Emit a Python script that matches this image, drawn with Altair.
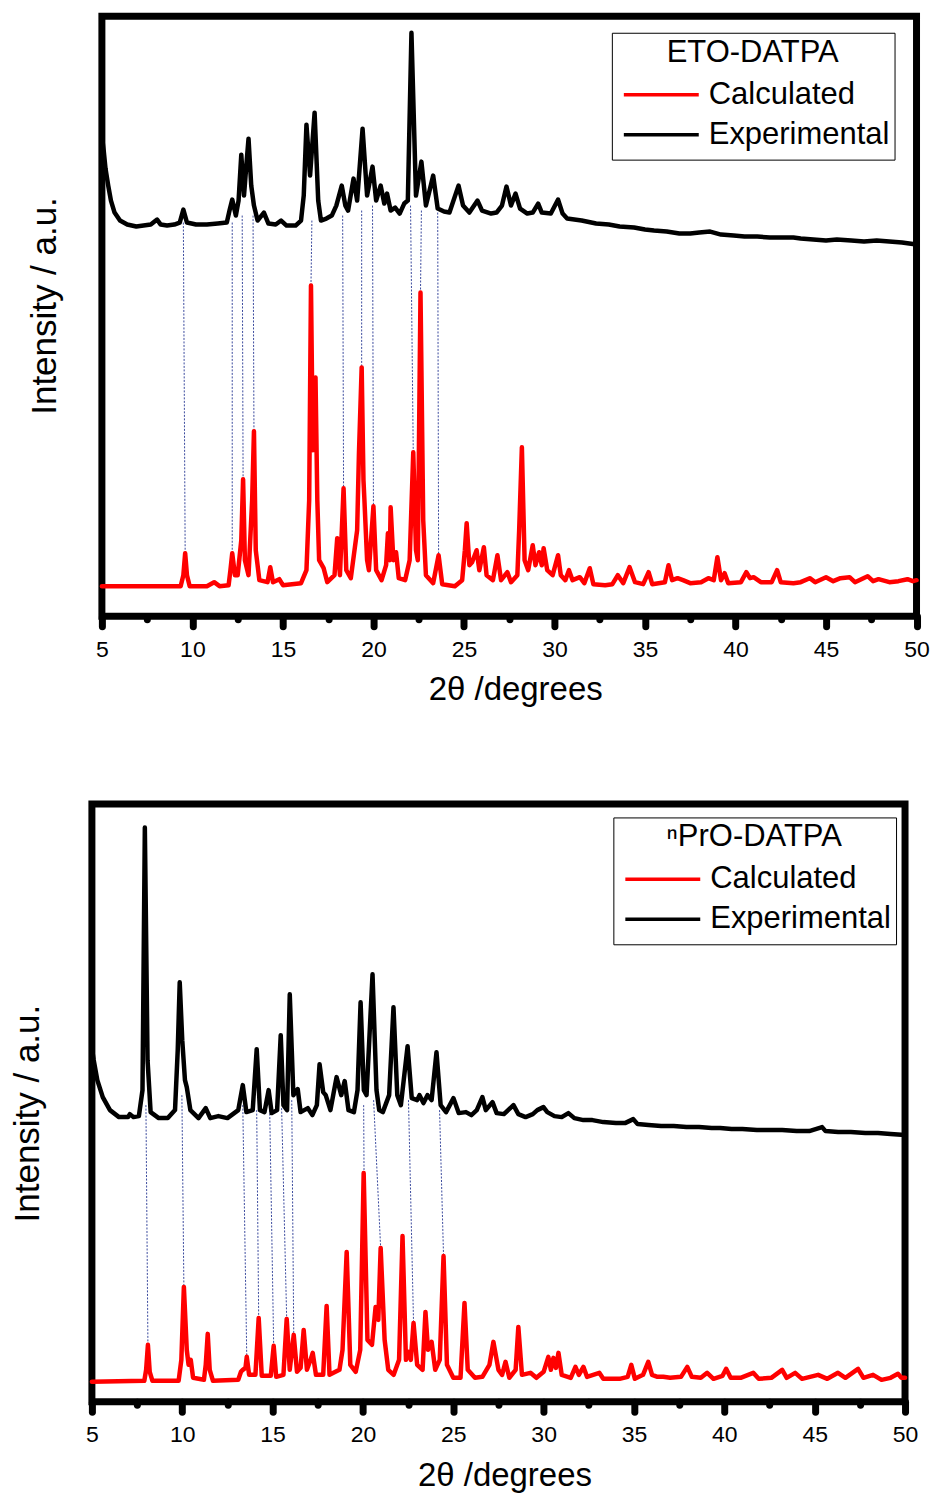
import altair as alt
import pandas as pd

# ---------------- Panel 1 : ETO-DATPA ----------------
eto_exp_2theta = [5.0, 5.1, 5.2, 5.35, 5.5, 5.7, 6.0, 6.4, 6.9, 7.3, 7.7, 8.05, 8.25, 8.6, 9.0, 9.3, 9.5, 9.7,
                  10.2, 10.8, 11.4, 11.9, 12.05, 12.2, 12.4, 12.55, 12.7, 12.85, 13.0, 13.1, 13.25, 13.4, 13.6,
                  13.95, 14.2, 14.6, 14.9, 15.2, 15.7, 16.0, 16.15, 16.3, 16.5, 16.75, 16.95, 17.1, 17.4, 17.7,
                  17.95, 18.1, 18.25, 18.45, 18.6, 18.9, 19.1, 19.4, 19.65, 19.95, 20.15, 20.4, 20.6, 20.75,
                  20.95, 21.2, 21.45, 21.7, 21.9, 22.1, 22.35, 22.65, 22.9, 23.3, 23.55, 23.9, 24.2, 24.7, 24.95,
                  25.3, 25.75, 26.0, 26.5, 26.8, 27.1, 27.35, 27.6, 27.85, 28.1, 28.5, 28.8, 29.1, 29.3, 29.8,
                  30.2, 30.45, 30.7, 31.5, 32.3, 33.0, 33.6, 34.4, 35.0, 35.5, 36.2, 36.9, 37.5, 38.0, 38.6,
                  39.2, 39.9, 40.5, 41.2, 41.9, 42.5, 43.2, 43.6, 44.3, 45.0, 45.6, 46.4, 47.1, 47.8, 48.5,
                  49.2, 50.0]
eto_exp_int = [481, 466, 448, 431, 416, 404, 396, 392, 390, 391, 392, 397, 392, 391, 392, 394, 407, 394,
               392, 392, 393, 394, 406, 417, 401, 416, 462, 421, 456, 478, 431, 411, 396,
               404, 393, 392, 396, 391, 391, 396, 421, 492, 441, 504, 416, 396, 398, 401,
               411, 421, 431, 411, 406, 438, 416, 488, 421, 450, 416, 431, 413, 423,
               406, 409, 403, 413, 416, 584, 421, 455, 411, 441, 408, 405, 404, 431, 411,
               404, 416, 406, 403, 404, 411, 430, 411, 423, 408, 403, 404, 413, 404, 403,
               417, 403, 398, 396, 393, 392, 390, 389, 387, 386, 385, 383, 383, 384, 385,
               382, 381, 380, 380, 379, 379, 379, 378, 377, 376, 377, 376, 375, 376, 375,
               374, 372]

eto_calc_2theta = [5.0, 9.35, 9.5, 9.6, 9.7, 9.85, 10.8, 11.2, 11.5, 12.0, 12.1, 12.2, 12.35, 12.5, 12.7, 12.8,
                   12.9, 13.1, 13.3, 13.4, 13.5, 13.7, 14.15, 14.3, 14.45, 14.8, 15.0, 16.0, 16.3, 16.45, 16.55,
                   16.65, 16.8, 16.9, 17.0, 17.25, 17.45, 17.85, 18.0, 18.15, 18.35, 18.5, 18.75, 19.1, 19.2,
                   19.35, 19.45, 19.5, 19.65, 19.75, 20.0, 20.15, 20.45, 20.7, 20.8, 20.9, 20.95, 21.1, 21.25,
                   21.4, 21.75, 22.0, 22.2, 22.35, 22.45, 22.6, 22.75, 22.9, 23.3, 23.6, 23.8, 24.5, 24.9, 25.05,
                   25.15, 25.3, 25.45, 25.7, 25.85, 26.1, 26.25, 26.6, 26.85, 27.05, 27.4, 27.6, 27.95, 28.05,
                   28.2, 28.35, 28.55, 28.8, 28.95, 29.15, 29.3, 29.4, 29.6, 29.9, 30.2, 30.35, 30.6, 30.8, 31.0,
                   31.4, 31.65, 31.95, 32.15, 32.8, 33.2, 33.5, 33.8, 34.15, 34.45, 34.9, 35.2, 35.4, 36.1, 36.3,
                   36.5, 36.8, 37.1, 37.5, 38.1, 38.5, 38.8, 39.0, 39.2, 39.4, 39.6, 40.3, 40.6, 40.8, 41.0, 41.4,
                   42.0, 42.3, 42.5, 43.2, 43.6, 44.1, 44.4, 45.0, 45.4, 45.8, 46.3, 46.6, 47.3, 47.6, 47.9, 48.5,
                   49.0, 49.5, 49.8, 50.0]
eto_calc_int = [30, 30, 41, 63, 41, 30, 30, 34, 30, 31, 46, 63, 41, 41, 76, 137,
                56, 41, 116, 185, 66, 36, 34, 49, 34, 37, 31, 33, 46, 116, 331,
                166, 239, 116, 56, 48, 34, 41, 78, 41, 128, 46, 38, 86, 163,
                249, 136, 117, 56, 46, 110, 46, 36, 51, 83, 56, 109, 56, 64,
                38, 36, 56, 164, 66, 56, 324, 96, 41, 33, 61, 32, 30, 36, 66,
                93, 51, 54, 66, 46, 69, 41, 36, 61, 36, 44, 34, 41, 86,
                169, 56, 46, 71, 51, 64, 51, 68, 46, 41, 61, 41, 36, 46, 36,
                39, 33, 48, 32, 31, 32, 41, 33, 49, 34, 32, 44, 32, 34, 51,
                36, 38, 36, 33, 34, 38, 36, 59, 36, 43, 33, 34, 44, 38, 39, 34,
                34, 46, 34, 33, 34, 38, 34, 39, 35, 38, 39, 34, 40, 35, 37, 34,
                35, 37, 35, 36]

eto_link_exp_2theta = [9.5, 12.2, 12.75, 13.35, 16.6, 18.3, 19.35, 19.95, 22.05, 22.65, 23.55]
eto_link_exp_int = [394, 394, 401, 401, 396, 401, 406, 411, 411, 406, 404]
eto_link_calc_2theta = [9.6, 12.2, 12.8, 13.4, 16.55, 18.35, 19.35, 20.0, 22.2, 22.6, 23.6]
eto_link_calc_int = [63, 63, 137, 185, 331, 128, 249, 110, 164, 324, 61]

# ---------------- Panel 2 : nPrO-DATPA ----------------
pro_exp_2theta = [5.0, 5.1, 5.3, 5.6, 6.0, 6.5, 7.0, 7.1, 7.3, 7.6, 7.8, 7.93, 8.08, 8.25, 8.7, 9.2, 9.6, 9.75,
                  9.86, 10.0, 10.15, 10.25, 10.45, 10.9, 11.3, 11.55, 12.0, 12.5, 13.1, 13.35, 13.55, 13.9,
                  14.12, 14.3, 14.55, 14.78, 14.95, 15.25, 15.45, 15.6, 15.8, 15.95, 16.15, 16.39, 16.55, 16.95,
                  17.2, 17.45, 17.6, 17.8, 17.94, 18.2, 18.54, 18.8, 18.99, 19.2, 19.5, 19.7, 19.87, 20.05,
                  20.2, 20.53, 20.75, 20.9, 21.1, 21.45, 21.69, 21.9, 22.1, 22.47, 22.7, 23.0, 23.13, 23.35,
                  23.57, 23.8, 24.07, 24.3, 24.6, 25.01, 25.3, 25.7, 26.0, 26.3, 26.61, 26.8, 27.17, 27.4, 27.8,
                  28.33, 28.6, 29.0, 29.4, 29.65, 29.99, 30.2, 30.6, 31.0, 31.37, 31.7, 32.2, 32.7, 33.3, 34.0,
                  34.5, 34.96, 35.2, 35.8, 36.5, 37.2, 37.9, 38.6, 39.3, 39.77, 40.4, 41.0, 41.8, 42.5, 43.2,
                  44.0, 44.7, 45.41, 45.6, 46.3, 47.0, 47.8, 48.5, 49.2, 50.0]
pro_exp_int = [354, 342, 322, 305, 292, 285, 285, 288, 285, 286, 312, 575, 342, 290, 284, 284, 292, 352,
               420, 362, 322, 315, 292, 284, 294, 284, 286, 284, 292, 317, 290, 292,
               353, 292, 290, 312, 289, 292, 367, 297, 292, 408, 307, 313, 290, 294,
               287, 297, 338, 310, 307, 292, 325, 307, 321, 292, 290, 312, 400, 312,
               307, 428, 312, 292, 290, 307, 395, 307, 297, 356, 304, 302, 307, 299,
               307, 302, 350, 297, 290, 304, 289, 290, 287, 292, 305, 292, 300, 289, 288,
               297, 288, 285, 288, 292, 295, 290, 286, 285, 289, 284, 282, 282, 280, 279,
               279, 283, 278, 277, 276, 276, 275, 275, 274, 274, 273, 273, 272, 272, 272,
               271, 271, 275, 271, 270, 270, 269, 269, 268, 267]

pro_calc_2theta = [5.0, 7.9, 8.0, 8.1, 8.2, 8.35, 9.8, 9.95, 10.09, 10.25, 10.35, 10.47, 10.6, 11.2, 11.3, 11.41,
                   11.52, 11.7, 13.1, 13.25, 13.35, 13.5, 13.57, 13.7, 14.05, 14.23, 14.4, 14.9, 15.06, 15.2,
                   15.6, 15.78, 15.95, 16.17, 16.35, 16.55, 16.72, 16.9, 17.1, 17.22, 17.4, 17.8, 17.99, 18.15,
                   18.7, 18.87, 19.1, 19.3, 19.6, 19.85, 20.04, 20.25, 20.5, 20.7, 20.85, 20.98, 21.2, 21.4,
                   21.7, 22.0, 22.19, 22.38, 22.52, 22.65, 22.8, 23.0, 23.3, 23.46, 23.6, 23.8, 24.0, 24.25,
                   24.46, 24.65, 25.0, 25.4, 25.62, 25.8, 26.2, 26.61, 27.0, 27.22, 27.5, 27.7, 27.89, 28.1,
                   28.45, 28.6, 28.8, 29.27, 29.6, 30.0, 30.26, 30.4, 30.54, 30.68, 30.82, 31.0, 31.5, 31.76,
                   31.95, 32.2, 32.4, 33.08, 33.3, 34.2, 34.65, 34.85, 35.05, 35.5, 35.79, 36.0, 36.3, 36.62,
                   37.0, 37.6, 37.95, 38.2, 38.7, 39.05, 39.4, 39.9, 40.1, 40.35, 40.9, 41.6, 41.9, 42.6, 43.2,
                   43.45, 43.92, 44.3, 45.19, 45.7, 46.29, 46.7, 47.4, 47.7, 48.23, 48.7, 49.2, 49.61, 49.8, 50.0]
pro_calc_int = [20, 21, 32, 57, 30, 21, 21, 42, 115, 52, 37, 42, 24, 22, 37, 68,
                32, 21, 22, 30, 32, 34, 45, 27, 27, 84, 26, 26, 56, 25,
                27, 83, 32, 67, 30, 34, 72, 32, 42, 49, 27, 27, 96, 27,
                32, 52, 150, 37, 30, 52, 229, 62, 57, 95, 82, 154, 62, 32,
                27, 42, 166, 42, 50, 42, 79, 37, 32, 90, 52, 60, 32, 42,
                146, 37, 24, 24, 99, 32, 24, 25, 37, 60, 32, 27, 40, 24,
                32, 75, 27, 29, 24, 30, 45, 32, 44, 34, 49, 27, 24, 35,
                27, 35, 25, 29, 23, 23, 25, 37, 23, 27, 40, 27, 25, 25,
                24, 25, 35, 25, 24, 29, 23, 26, 33, 24, 24, 29, 23, 24, 32,
                24, 29, 23, 27, 23, 29, 24, 33, 24, 27, 22, 24, 28, 24, 24]

pro_link_exp_2theta = [7.99, 9.98, 13.35, 14.12, 14.84, 15.5, 16.06, 20.04, 20.59, 22.52, 24.24]
pro_link_exp_int = [297, 307, 297, 292, 292, 294, 302, 297, 302, 302, 292]
pro_link_calc_2theta = [8.1, 10.09, 13.57, 14.23, 15.06, 15.78, 16.17, 20.06, 20.98, 22.8, 24.46]
pro_link_calc_int = [57, 115, 45, 84, 56, 83, 67, 229, 154, 79, 146]

tick_values = [5, 7.5, 10, 12.5, 15, 17.5, 20, 22.5, 25, 27.5, 30, 32.5, 35, 37.5, 40, 42.5, 45, 47.5, 50]
series_names = ["Calculated", "Experimental"]
series_colors = ["#ff0000", "#000000"]

FONT = "Liberation Sans"


def panel(name, exp_x, exp_y, calc_x, calc_y, lx1, ly1, lx2, ly2,
          w, h, ymax, leg_x, leg_y, ytitle_x, ytitle_y, xtitle_y):
    lines = pd.DataFrame({
        "theta": list(calc_x) + list(exp_x),
        "intensity": list(calc_y) + list(exp_y),
        "series": ["Calculated"] * len(calc_x) + ["Experimental"] * len(exp_x),
        "idx": list(range(len(calc_x))) + list(range(len(exp_x))),
    })
    links = pd.DataFrame({"theta": lx1, "intensity": ly1, "theta2": lx2, "intensity2": ly2})

    x_axis = alt.Axis(
        title="2θ /degrees", values=tick_values, domain=False, grid=False,
        tickColor="black", tickWidth=7, tickCap="round",
        tickSize=alt.condition("datum.value % 5 === 0", alt.value(10), alt.value(3)),
        labelExpr="datum.value % 5 === 0 ? datum.label : ''",
        labelFont=FONT, labelFontSize=23, labelColor="black", labelPadding=12,
        labelFlush=False, labelOverlap=False,
        titleFont=FONT, titleFontSize=33, titleFontWeight="normal", titleColor="black",
        titleY=xtitle_y, titleX=w / 2 + 6, titleBaseline="middle",
    )
    y_axis = alt.Axis(
        title="Intensity / a.u.", labels=False, ticks=False, domain=False, grid=False,
        titleFont=FONT, titleFontSize=35, titleFontWeight="normal", titleColor="black",
        titleX=ytitle_x, titleY=ytitle_y, titleBaseline="middle", titleAngle=270,
    )
    x_enc = alt.X("theta:Q", scale=alt.Scale(domain=[5, 50], nice=False, zero=False), axis=x_axis)
    y_enc = alt.Y("intensity:Q", scale=alt.Scale(domain=[0, ymax], nice=False, zero=False), axis=y_axis)

    rules = alt.Chart(links).mark_rule(color="#3b4a9e", strokeWidth=1, strokeDash=[2, 1.5]).encode(
        x=x_enc, y=y_enc, x2="theta2:Q", y2="intensity2:Q")

    curves = alt.Chart(lines).mark_line(strokeWidth=4.5, strokeJoin="round", strokeCap="round").encode(
        x=x_enc, y=y_enc, order="idx:Q",
        color=alt.Color("series:N",
                        scale=alt.Scale(domain=series_names, range=series_colors),
                        legend=alt.Legend(
                            title=name, orient="none", legendX=leg_x, legendY=leg_y,
                            strokeColor="black", fillColor="white", padding=5,
                            titleFont=FONT, titleFontSize=31, titleFontWeight="normal", titleColor="black",
                            titleAnchor="middle", titleAlign="center", titlePadding=6, titleLimit=400,
                            labelFont=FONT, labelFontSize=31, labelColor="black", labelLimit=400,
                            labelOffset=8, symbolType="stroke", symbolSize=5625, symbolStrokeWidth=3.5,
                            symbolOffset=5, clipHeight=40, rowPadding=0)))

    return alt.layer(rules, curves).properties(width=w, height=h)


def spacer(width):
    return alt.Chart(pd.DataFrame({"v": [0]})).mark_point(opacity=0).encode(
        x=alt.value(0), y=alt.value(0)).properties(
        width=width, height=1, view=alt.ViewBackground(stroke="transparent", fill="transparent"))


top = panel("ETO-DATPA", eto_exp_2theta, eto_exp_int, eto_calc_2theta, eto_calc_int,
            eto_link_exp_2theta, eto_link_exp_int, eto_link_calc_2theta, eto_link_calc_int,
            815.5, 600.5, 600.5, 510.5, 16.5, -57.5, 289.5, 73)
bottom = panel("ⁿPrO-DATPA", pro_exp_2theta, pro_exp_int, pro_calc_2theta, pro_calc_int,
               pro_link_exp_2theta, pro_link_exp_int, pro_link_calc_2theta, pro_link_calc_int,
               814, 598.5, 598.5, 522, 13.5, -64, 309.5, 74)

row1 = alt.hconcat(spacer(20), top, spacing=0).resolve_scale(color="independent").resolve_legend(color="independent")
row2 = alt.hconcat(spacer(1), bottom, spacing=0).resolve_scale(color="independent").resolve_legend(color="independent")

chart = alt.vconcat(row1, row2, spacing=87.5).resolve_scale(
    color="independent").resolve_legend(color="independent").properties(
    padding={"left": -7, "top": 8.5, "right": 3, "bottom": 0},
    background="white",
).configure(font=FONT).configure_view(
    stroke="black", strokeWidth=7, fill="white"
)

chart.save("out.html", embed_options={"renderer": "svg", "actions": False})
